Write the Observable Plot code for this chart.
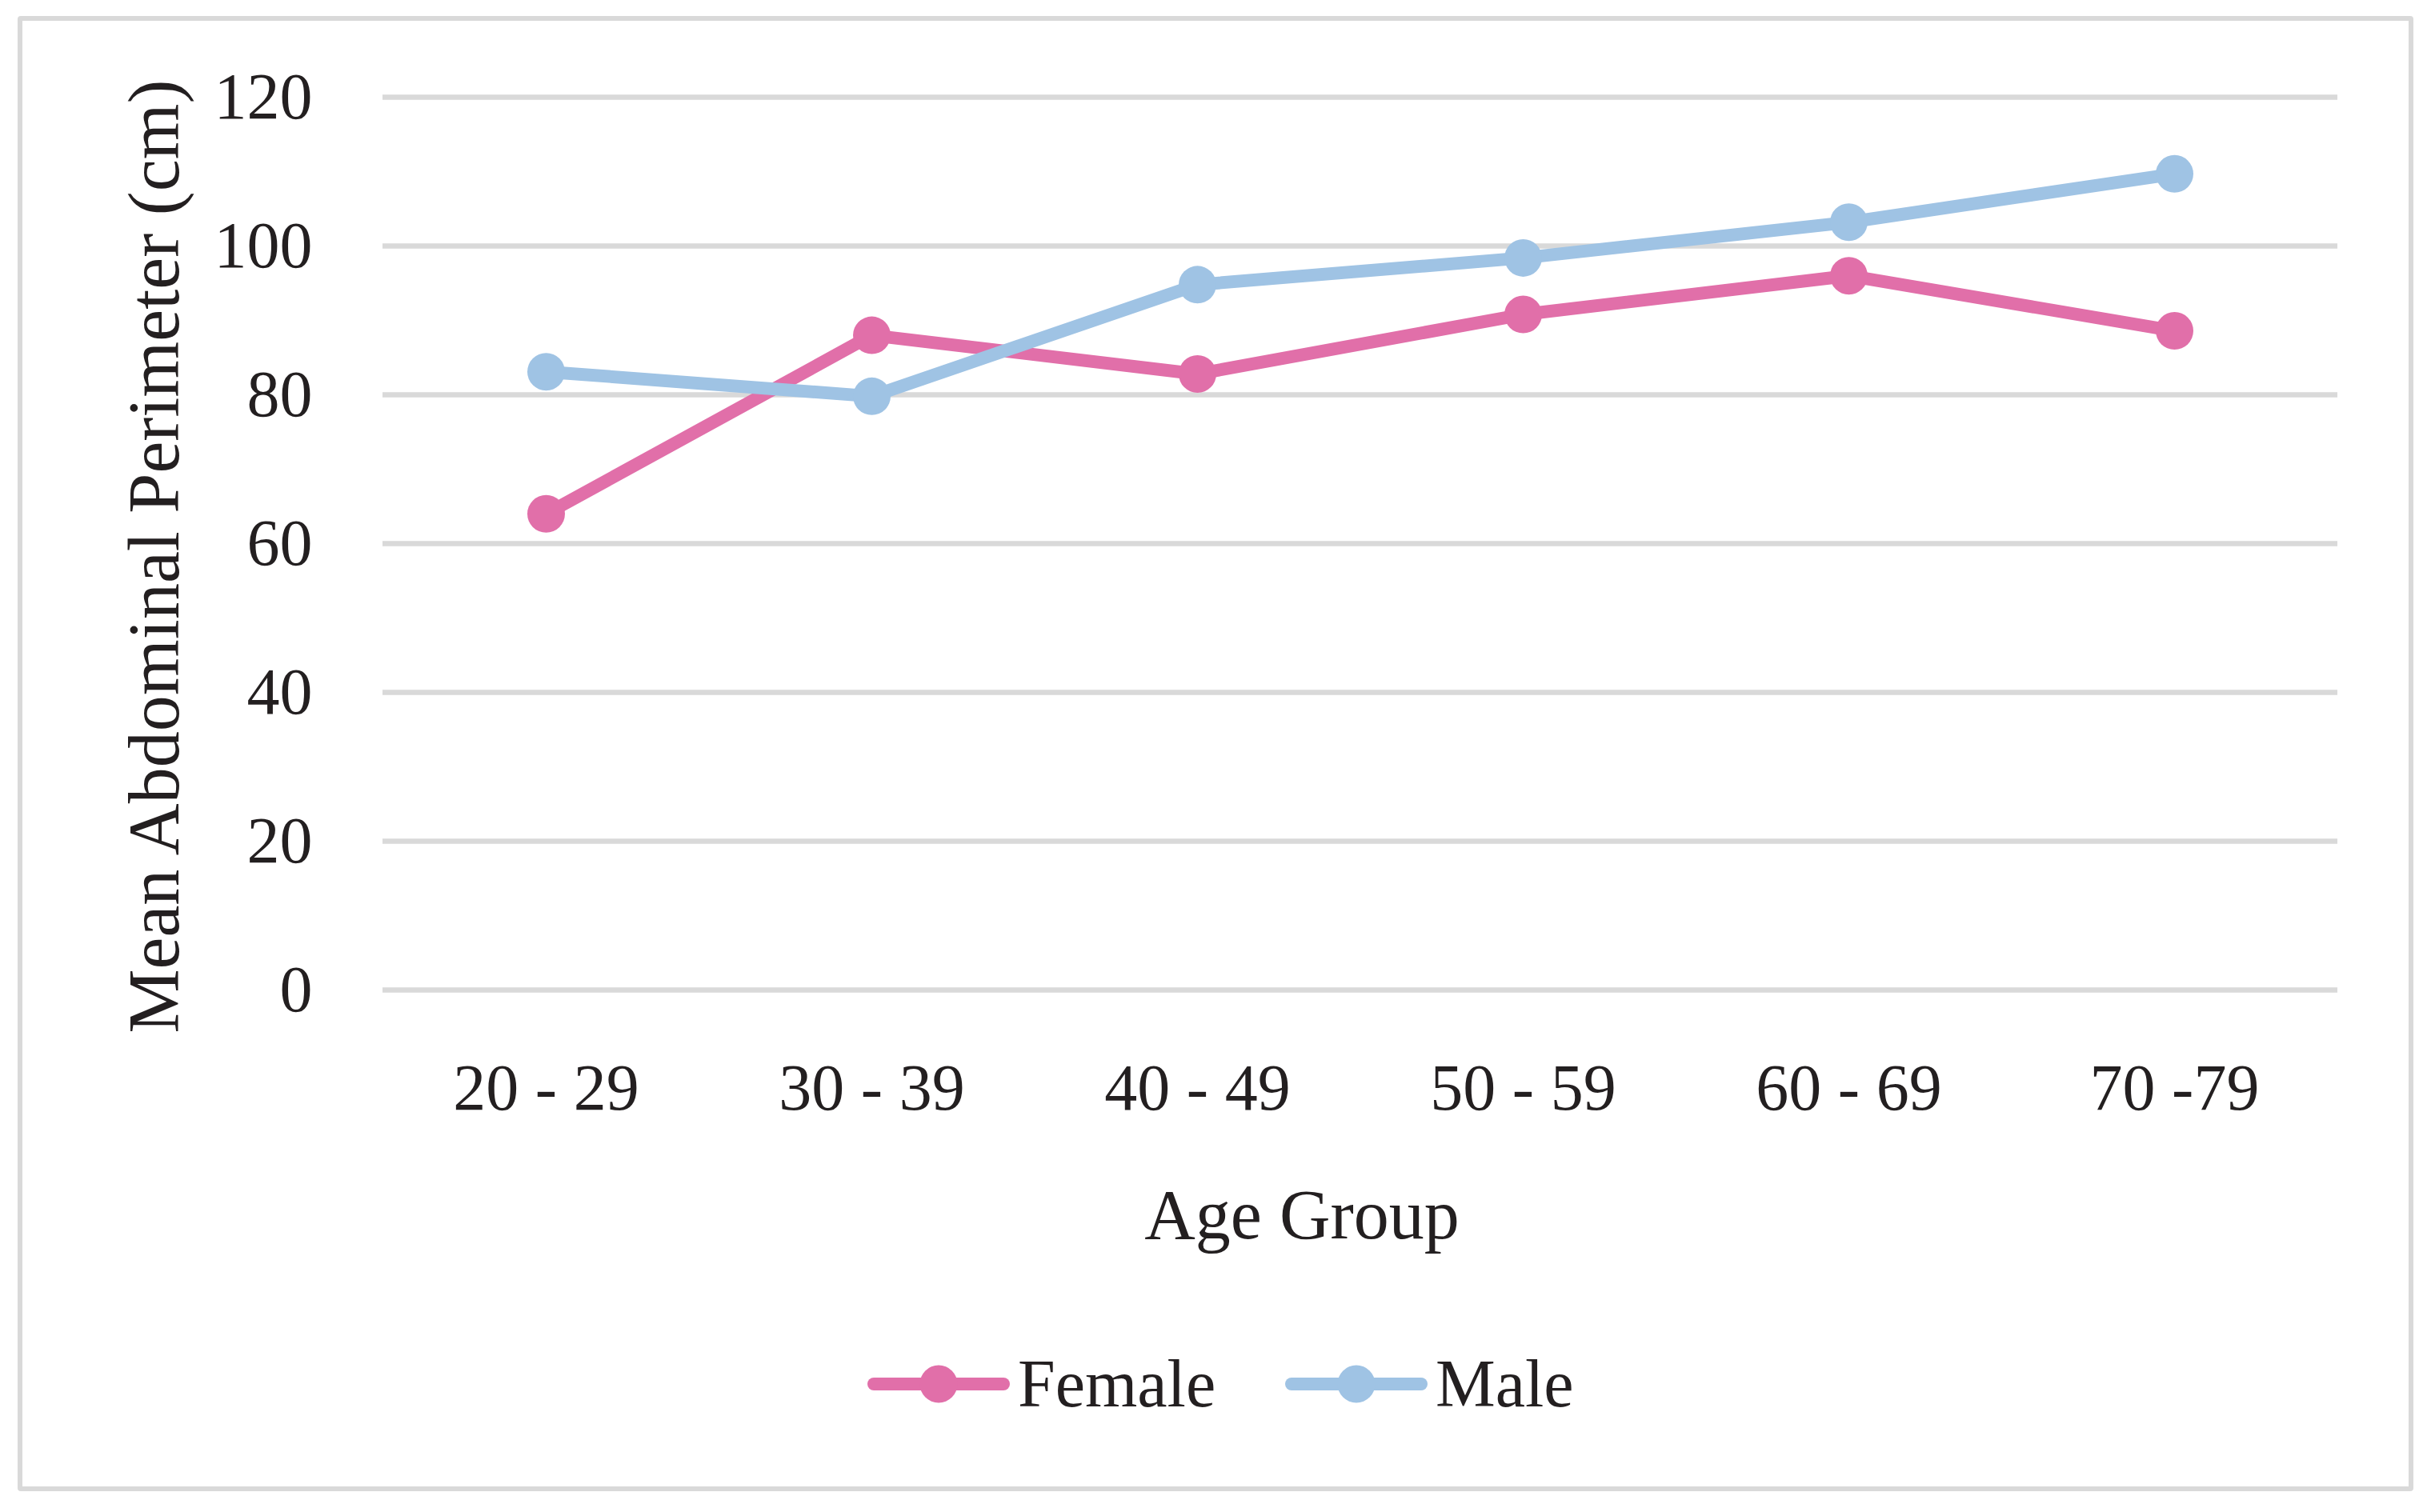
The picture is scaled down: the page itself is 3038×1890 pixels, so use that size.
<!DOCTYPE html>
<html>
<head>
<meta charset="utf-8">
<script src="https://cdn.jsdelivr.net/npm/d3@7"></script>
<script src="https://cdn.jsdelivr.net/npm/@observablehq/plot@0.6"></script>
<style>
  html, body { margin: 0; padding: 0; background: #ffffff; }
  body { width: 3038px; height: 1890px; position: relative; overflow: hidden;
         font-family: "Liberation Serif", serif; color: #231F20; }
  #frame { position: absolute; left: 22px; top: 20px; width: 2994px; height: 1844px;
           box-sizing: border-box; border: 6px solid #D9D9D9; border-radius: 4px; }
  #chart { position: absolute; left: 0; top: 0; }
  .legend-item { position: absolute; top: 1690px; height: 80px; display: flex; align-items: center;
                 font-size: 84px; line-height: 80px; }
  .legend-item svg { display: block; margin-right: 10px; }
</style>
</head>
<body>
<div id="frame"></div>
<div id="chart"></div>
<div id="legend"></div>
<script>
const ageGroups = ["20 - 29", "30 - 39", "40 - 49", "50 - 59", "60 - 69", "70 -79"];
const femaleValues = [64.0, 88.0, 82.8, 90.8, 96.0, 88.6];
const maleValues = [83.1, 79.8, 94.8, 98.4, 103.2, 109.7];
const yTicks = [0, 20, 40, 60, 80, 100, 120];
const seriesNames = ["Female", "Male"];
const seriesColors = ["#E16FA9", "#9FC3E4"];
const yTitle = "Mean Abdominal Perimeter (cm)";
const xTitle = "Age Group";

const female = ageGroups.map((g, i) => ({group: g, value: femaleValues[i], series: "Female"}));
const male = ageGroups.map((g, i) => ({group: g, value: maleValues[i], series: "Male"}));

const font = "Liberation Serif, serif";
const chart = Plot.plot({
  width: 3038,
  height: 1600,
  marginTop: 121,
  marginBottom: 363,
  marginLeft: 478,
  marginRight: 117,
  style: {background: "transparent", fontFamily: font, fontSize: "82px", color: "#231F20", overflow: "visible"},
  x: {type: "point", domain: ageGroups, padding: 0.5},
  y: {domain: [0, 120]},
  color: {domain: seriesNames, range: seriesColors},
  marks: [
    Plot.ruleY(yTicks, {stroke: "#D9D9D9", strokeWidth: 6.5}),
    Plot.axisY({ticks: yTicks, tickSize: 0, tickPadding: 88, fontSize: 82, label: null}),
    Plot.axisX({tickSize: 0, tickPadding: 91, fontSize: 82, label: null}),
    Plot.text([yTitle], {frameAnchor: "left", textAnchor: "middle", lineAnchor: "middle", rotate: -90, dx: -284, dy: 16, fontSize: 90, fill: "#231F20", text: d => d}),
    Plot.text([xTitle], {frameAnchor: "bottom", textAnchor: "middle", lineAnchor: "middle", dx: -73, dy: 282, fontSize: 88, fill: "#231F20", text: d => d}),
    Plot.line(female, {x: "group", y: "value", stroke: "series", strokeWidth: 16, strokeLinejoin: "round", strokeLinecap: "round"}),
    Plot.dot(female, {x: "group", y: "value", fill: "series", r: 23.5}),
    Plot.line(male, {x: "group", y: "value", stroke: "series", strokeWidth: 16, strokeLinejoin: "round", strokeLinecap: "round"}),
    Plot.dot(male, {x: "group", y: "value", fill: "series", r: 23.5})
  ]
});
document.getElementById("chart").appendChild(chart);

// Legend below the chart
const legend = document.getElementById("legend");
const legendLefts = [1084, 1606];
seriesNames.forEach((name, i) => {
  const item = document.createElement("div");
  item.className = "legend-item";
  item.style.left = legendLefts[i] + "px";
  const color = seriesColors[i];
  item.innerHTML = `<svg width="178" height="50" viewBox="0 0 178 50">
      <line x1="8" y1="25" x2="170" y2="25" stroke="${color}" stroke-width="16" stroke-linecap="round"/>
      <circle cx="89" cy="25" r="23.5" fill="${color}"/>
    </svg><span>${name}</span>`;
  legend.appendChild(item);
});
</script>
</body>
</html>
